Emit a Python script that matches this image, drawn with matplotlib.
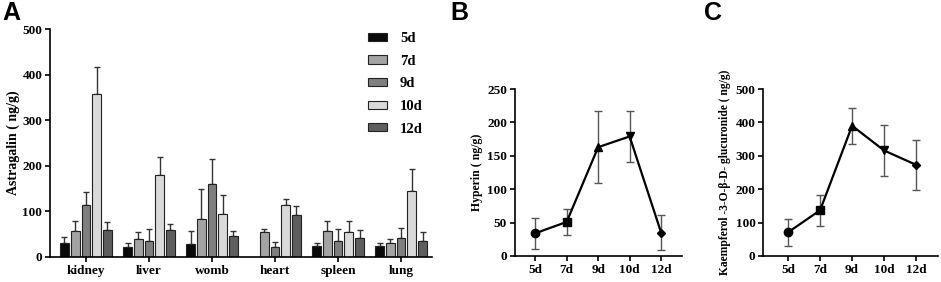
import matplotlib
matplotlib.use("Agg")
import matplotlib.pyplot as plt
import numpy as np
from matplotlib.patches import Patch

organs = ["kidney", "liver", "womb", "heart", "spleen", "lung"]
days = ["5d", "7d", "9d", "10d", "12d"]
# mean values per day (rows) across organs (columns)
astragalin_mean = {
    "5d":  [30, 21, 29, 0, 24, 25],
    "7d":  [58, 39, 84, 54, 56, 30],
    "9d":  [113, 36, 161, 23, 36, 42],
    "10d": [358, 179, 95, 113, 55, 144],
    "12d": [59, 59, 47, 92, 41, 34],
}
astragalin_err = {
    "5d":  [13, 9, 27, 0, 6, 6],
    "7d":  [22, 16, 65, 7, 24, 10],
    "9d":  [29, 25, 53, 9, 25, 22],
    "10d": [58, 40, 41, 15, 23, 50],
    "12d": [18, 14, 11, 19, 19, 20],
}
bar_colors = ["#0a0a0a", "#a3a3a3", "#7f7f7f", "#d9d9d9", "#5e5e5e"]

hyperin_mean = [34, 51, 163, 179, 35]
hyperin_err = [23, 20, 54, 38, 26]
kaemp_mean = [71, 137, 390, 316, 273]
kaemp_err = [40, 46, 54, 75, 75]
markers = ["o", "s", "^", "v", "D"]

serif = "Liberation Serif"
plt.rcParams["font.family"] = serif
plt.rcParams["font.weight"] = "bold"

fig = plt.figure(figsize=(9.41, 2.82), dpi=100)

def style_axes(ax):
    for s in ["top", "right"]:
        ax.spines[s].set_visible(False)
    for s in ["left", "bottom"]:
        ax.spines[s].set_linewidth(1.2)
    ax.tick_params(axis="both", width=1.2, length=3.5, labelsize=9.5, pad=2)
    for lab in ax.get_xticklabels() + ax.get_yticklabels():
        lab.set_fontweight("bold")

# Panel A
axA = fig.add_axes([0.0531, 0.0887, 0.406, 0.808])
x = np.arange(len(organs))
w = 0.138
step = 0.17
for i, d in enumerate(days):
    xs = x + (i - 2) * step
    m = np.array(astragalin_mean[d])
    e = np.array(astragalin_err[d])
    axA.bar(xs, m, width=w, color=bar_colors[i], edgecolor="#222222", linewidth=0.8, zorder=2)
    mask = m > 0
    axA.errorbar(xs[mask], m[mask], yerr=[np.zeros(mask.sum()), e[mask]], fmt="none",
                 ecolor="#333333", elinewidth=1.0, capsize=2, capthick=1.0, zorder=1)
axA.set_xlim(-0.57, 5.49)
axA.set_ylim(0, 500)
axA.set_yticks([0, 100, 200, 300, 400, 500])
axA.set_xticks(x)
axA.set_xticklabels(organs)
axA.set_ylabel("Astragalin ( ng/g)", fontsize=10, fontweight="bold", labelpad=2)
style_axes(axA)
handles = [Patch(facecolor=c, edgecolor="#222222", linewidth=0.8) for c in bar_colors]
leg = axA.legend(handles, days, loc="upper right", bbox_to_anchor=(1.01, 1.045), frameon=False,
                 prop={"family": serif, "weight": "bold", "size": 10.5},
                 handlelength=1.3, handleheight=0.5, labelspacing=0.66, handletextpad=0.9)

def line_panel(rect, mean, err, ylim, yticks, xlim, ylabel, yfs):
    ax = fig.add_axes(rect)
    xi = np.arange(len(days))
    ax.errorbar(xi, mean, yerr=err, fmt="none", ecolor="#555555", elinewidth=1.0,
                capsize=3, capthick=1.0, zorder=1)
    ax.plot(xi, mean, color="black", linewidth=1.6, zorder=2)
    for j in range(len(days)):
        ms = 6 if markers[j] != "D" else 4.5
        ax.plot(xi[j], mean[j], marker=markers[j], color="black", markersize=ms, zorder=3)
    ax.set_xlim(*xlim)
    ax.set_ylim(*ylim)
    ax.set_yticks(yticks)
    ax.set_xticks(xi)
    ax.set_xticklabels(days)
    ax.set_ylabel(ylabel, fontsize=yfs, fontweight="bold", labelpad=3)
    style_axes(ax)
    return ax

line_panel([0.547, 0.0922, 0.178, 0.592], hyperin_mean, hyperin_err, (0, 250),
           [0, 50, 100, 150, 200, 250], (-0.65, 4.67), "Hyperin ( ng/g)", 8.5)
line_panel([0.811, 0.0922, 0.186, 0.592], kaemp_mean, kaemp_err, (0, 500),
           [0, 100, 200, 300, 400, 500], (-0.78, 4.69),
           "Kaempferol -3-O-β-D- glucuronide ( ng/g)", 8.3)

for lbl, xp in [("A", 0.002), ("B", 0.479), ("C", 0.748)]:
    fig.text(xp, 0.998, lbl, fontsize=18, fontweight="bold", family="Liberation Sans",
             ha="left", va="top")

fig.savefig("out.png", dpi=100)
